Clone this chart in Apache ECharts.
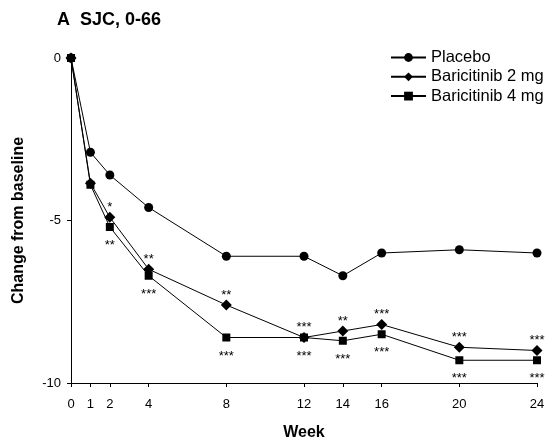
<!DOCTYPE html>
<html>
<head>
<meta charset="utf-8">
<script src="https://cdn.jsdelivr.net/npm/echarts@6/dist/echarts.min.js"></script>
<style>html,body{margin:0;padding:0;background:#fff}#c{width:547px;height:439px}</style>
</head>
<body>
<div id="c"></div>
<script>
var weeks = [0, 1, 2, 4, 8, 12, 14, 16, 20, 24];
var placebo = [0, -2.9, -3.6, -4.6, -6.1, -6.1, -6.7, -6.0, -5.9, -6.0];
var bari2 = [0, -3.85, -4.9, -6.5, -7.6, -8.6, -8.4, -8.2, -8.9, -9.0];
var bari4 = [0, -3.9, -5.2, -6.7, -8.6, -8.6, -8.7, -8.5, -9.3, -9.3];
var sig2 = ['', '', '*', '**', '**', '***', '**', '***', '***', '***'];
var sig4 = ['', '', '**', '***', '***', '***', '***', '***', '***', '***'];
var yTicks = [0, -5, -10];

var FONT = 'Liberation Sans, Arial, sans-serif';
function pts(vals) { return weeks.map(function (w, i) { return [w, vals[i]]; }); }
function withLabels(vals, sig, pos, dist) {
  return weeks.map(function (w, i) {
    return {
      value: [w, vals[i]],
      label: { show: sig[i] !== '', formatter: sig[i], position: pos, distance: dist,
               color: '#000', fontSize: 13, fontFamily: FONT }
    };
  });
}
var chart = echarts.init(document.getElementById('c'), null, { renderer: 'canvas' });
var lineStyle = { color: '#000', width: 1 };
chart.setOption({
  animation: false,
  backgroundColor: '#fff',
  title: {
    text: 'A  SJC, 0-66', left: 57, top: 11, padding: 0,
    textStyle: { fontFamily: FONT, fontWeight: 'bold', fontSize: 18, color: '#000' }
  },
  legend: {
    orient: 'vertical', left: 390, top: 49, padding: 0, itemWidth: 35, itemHeight: 11, itemGap: 2.3,
    textStyle: { fontFamily: FONT, fontSize: 16.5, color: '#000' },
    data: ['Placebo', 'Baricitinib 2 mg', 'Baricitinib 4 mg']
  },
  grid: { left: 71, right: 10, top: 58, bottom: 56, containLabel: false, outerBoundsMode: 'none' },
  xAxis: {
    type: 'value', min: 0, max: 24, interval: 1,
    name: 'Week', nameLocation: 'middle', nameGap: 42,
    nameTextStyle: { fontFamily: FONT, fontWeight: 'bold', fontSize: 16, color: '#000' },
    axisLine: { show: true, onZero: false, lineStyle: { color: '#000', width: 1 } },
    axisTick: { show: true, length: 4, lineStyle: { color: '#000' }, customValues: weeks },
    axisLabel: { color: '#000', fontFamily: FONT, fontSize: 13, margin: 15, customValues: weeks },
    splitLine: { show: false }
  },
  yAxis: {
    type: 'value', min: -10, max: 0, interval: 5,
    name: 'Change from baseline', nameLocation: 'middle', nameGap: 44,
    nameTextStyle: { fontFamily: FONT, fontWeight: 'bold', fontSize: 16, color: '#000' },
    axisLine: { show: true, lineStyle: { color: '#000', width: 1 } },
    axisTick: { show: true, length: 4, lineStyle: { color: '#000' }, customValues: yTicks },
    axisLabel: { color: '#000', fontFamily: FONT, fontSize: 13, margin: 10, customValues: yTicks },
    splitLine: { show: false }
  },
  series: [
    { name: 'Placebo', type: 'line', data: pts(placebo), symbol: 'circle', symbolSize: 9,
      itemStyle: { color: '#000' }, lineStyle: lineStyle },
    { name: 'Baricitinib 2 mg', type: 'line', data: withLabels(bari2, sig2, 'top', -2), symbol: 'diamond', symbolSize: 11,
      itemStyle: { color: '#000' }, lineStyle: lineStyle },
    { name: 'Baricitinib 4 mg', type: 'line', data: withLabels(bari4, sig4, 'bottom', 8), symbol: 'rect', symbolSize: 8,
      itemStyle: { color: '#000' }, lineStyle: lineStyle }
  ]
});
</script>
</body>
</html>
